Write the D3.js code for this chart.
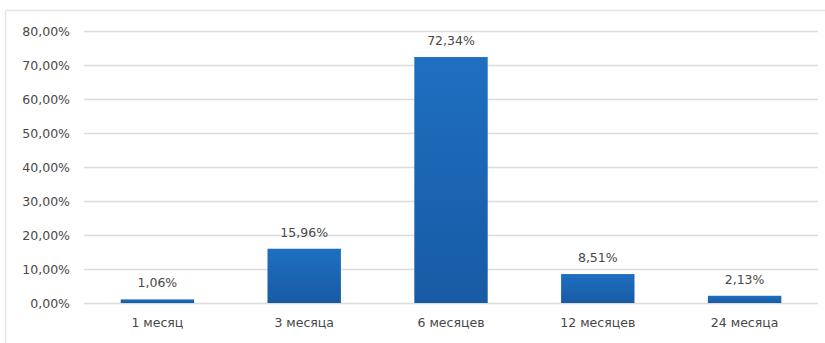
<!DOCTYPE html>
<html>
<head>
<meta charset="utf-8">
<script src="https://cdn.jsdelivr.net/npm/d3@7/dist/d3.min.js"></script>
<style>
  html, body { margin: 0; padding: 0; background: #fff; }
  svg { display: block; }
  text { font-family: "DejaVu Sans", sans-serif; fill: #484848; }
</style>
</head>
<body>
<svg id="chart" width="825" height="343"></svg>
<script>
const categories = ["1 месяц", "3 месяца", "6 месяцев", "12 месяцев", "24 месяца"];
const values = [1.06, 15.96, 72.34, 8.51, 2.13];
const yTicks = [0, 10, 20, 30, 40, 50, 60, 70, 80];

const fmt = v => v.toFixed(2).replace(".", ",") + "%";
const FONT = "'DejaVu Sans', sans-serif";
const INK = "#484848";

const svg = d3.select("#chart");
const W = 825, H = 343;
const m = { left: 84, right: 7, top: 31, bottom: 40 };

// chart area frame
svg.append("rect")
  .attr("x", 5.5).attr("y", 10.5)
  .attr("width", W + 10).attr("height", H + 10)
  .attr("fill", "#fff").attr("stroke", "#e3e6ea").attr("stroke-width", 1.5);

const x = d3.scaleBand().domain(categories).range([m.left, W - m.right])
  .paddingInner(0.5).paddingOuter(0.25);
const y = d3.scaleLinear().domain([0, 80]).range([H - m.bottom, m.top]);

const defs = svg.append("defs");
const grad = defs.append("linearGradient").attr("id", "barGrad")
  .attr("x1", 0).attr("y1", 0).attr("x2", 0).attr("y2", 1);
grad.append("stop").attr("offset", "0%").attr("stop-color", "#1f6fc1");
grad.append("stop").attr("offset", "100%").attr("stop-color", "#175ba4");

// horizontal gridlines
svg.append("g").selectAll("line").data(yTicks).join("line")
  .attr("x1", m.left).attr("x2", W - m.right)
  .attr("y1", d => Math.round(y(d)) + 0.5).attr("y2", d => Math.round(y(d)) + 0.5)
  .attr("stroke", "#dcdcdc").attr("stroke-width", 1.5);

// y axis labels
const yAxis = d3.axisLeft(y).tickValues(yTicks).tickFormat(fmt).tickSize(0).tickPadding(14);
const ga = svg.append("g").attr("transform", `translate(${m.left},0)`).call(yAxis);
ga.select(".domain").remove();
ga.selectAll("text").attr("font-size", 12.5).style("font-family", FONT).attr("fill", INK);

// x axis labels
const xAxis = d3.axisBottom(x).tickSize(0).tickPadding(15);
const gx = svg.append("g").attr("transform", `translate(0,${H - m.bottom})`).call(xAxis);
gx.select(".domain").remove();
gx.selectAll("text").attr("font-size", 12.5).style("font-family", FONT).attr("fill", INK);

// bars
const data = categories.map((c, i) => ({ c, v: values[i] }));
svg.append("g").selectAll("rect").data(data).join("rect")
  .attr("x", d => x(d.c))
  .attr("y", d => y(d.v))
  .attr("width", x.bandwidth())
  .attr("height", d => y(0) - y(d.v))
  .attr("fill", "url(#barGrad)");

// value labels
svg.append("g").selectAll("text").data(data).join("text")
  .attr("x", d => x(d.c) + x.bandwidth() / 2)
  .attr("y", d => y(d.v) - 12)
  .attr("text-anchor", "middle")
  .attr("font-size", 12.5)
  .style("font-family", FONT)
  .attr("fill", INK)
  .text(d => fmt(d.v));
</script>
</body>
</html>
